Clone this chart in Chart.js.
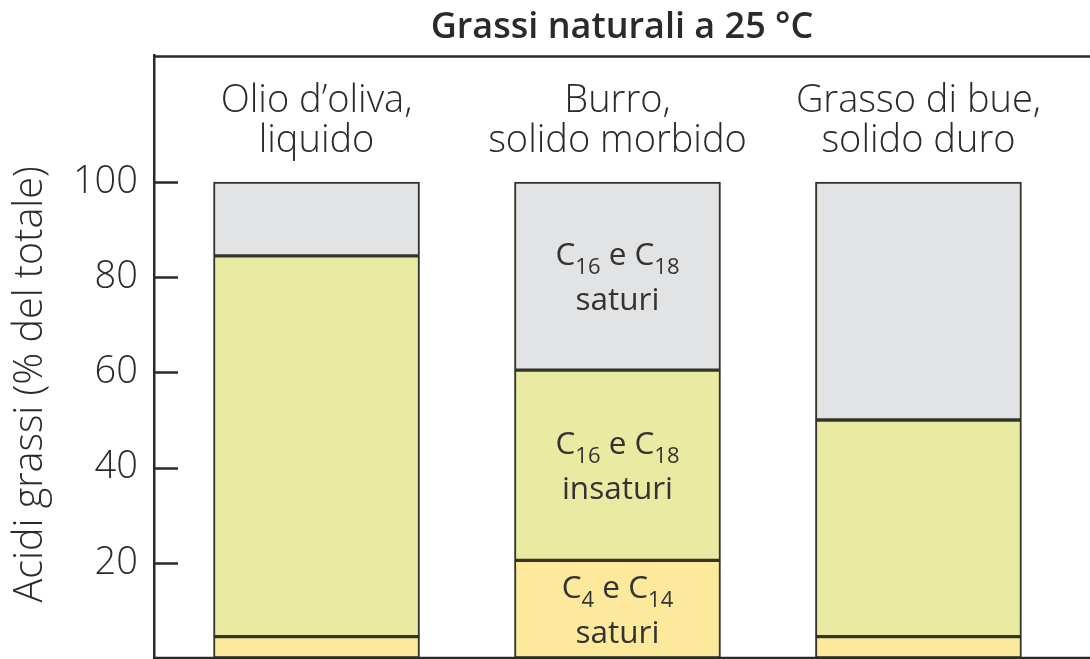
<!DOCTYPE html>
<html>
<head>
<meta charset="utf-8">
<script src="https://cdn.jsdelivr.net/npm/chart.js@4.4.0/dist/chart.umd.min.js"></script>
<style>
  html, body { margin: 0; padding: 0; background: #fff; }
  #chart { display: block; }
</style>
</head>
<body>
<canvas id="chart" width="1090" height="659"></canvas>
<script>
// Kategorien (zweizeilig) und Anteile der Fettsäuren in % vom Gesamt
const categories = [['Olio d\u2019oliva,', 'liquido'], ['Burro,', 'solido morbido'], ['Grasso di bue,', 'solido duro']];
const saturiC4C14 = [4.5, 20.5, 4.5];
const insaturiC16C18 = [80, 40, 45.5];
const saturiC16C18 = [15.5, 39.5, 50];
const yTicks = [20, 40, 60, 80, 100];

// Beschriftungen der Segmente (nur in der Butter-Säule)
const seriesNames = ['C4 e C14 saturi', 'C16 e C18 insaturi', 'C16 e C18 saturi'];
const seriesLine1 = [['C', '4', ' e C', '14'], ['C', '16', ' e C', '18'], ['C', '16', ' e C', '18']];
const seriesLine2 = ['saturi', 'insaturi', 'saturi'];
const labelledBar = 1;

const chartTitle = 'Grassi naturali a 25 \u00B0C';
const yTitle = 'Acidi grassi (% del totale)';

const FONT = 'Open Sans';
const INK = '#2a2a2a';
const EDGE = '#34342a';

const toPoints = arr => arr.map((v, i) => ({ x: i, y: v }));

/**
 * Zeichnet Rahmen, Tick-Striche nach innen, Kategorien, Segmenttexte und Achsentitel
 */
const decorPlugin = {
    id: 'decor',
    afterDatasetsDraw(chart) {
        const { ctx, chartArea: a, scales: { x, y } } = chart;
        ctx.save();

        // Rahmen oben/unten und Tick-Striche
        ctx.strokeStyle = INK;
        ctx.lineWidth = 2.5;
        ctx.beginPath();
        ctx.moveTo(a.left, a.top + 1.5);
        ctx.lineTo(a.right, a.top + 1.5);
        ctx.moveTo(a.left, a.bottom);
        ctx.lineTo(a.right, a.bottom);
        yTicks.forEach(v => {
            const py = Math.round(y.getPixelForValue(v)) + 0.5;
            ctx.moveTo(a.left, py);
            ctx.lineTo(a.left + 24, py);
        });
        ctx.stroke();

        // Kategorien oben im Rahmen
        ctx.fillStyle = INK;
        ctx.textAlign = 'center';
        ctx.textBaseline = 'alphabetic';
        ctx.font = `300 38px "${FONT}"`;
        categories.forEach((lines, i) => {
            const cx = x.getPixelForValue(i);
            lines.forEach((t, k) => ctx.fillText(t, cx, a.top + 57 + k * 40));
        });

        // Segmenttexte mit tiefgestellten Zahlen
        const size = 31.5;
        const subSize = 22;
        chart.data.datasets.forEach((ds, i) => {
            const bar = chart.getDatasetMeta(i).data[labelledBar];
            const { x: bx, y: top, base } = bar.getProps(['x', 'y', 'base'], true);
            const cy = (top + base) / 2;
            const parts = seriesLine1[i];
            const widths = parts.map((p, k) => {
                ctx.font = `400 ${k % 2 ? subSize : size}px "${FONT}"`;
                return ctx.measureText(p).width;
            });
            const total = widths.reduce((s, w) => s + w, 0);
            let px = bx - total / 2;
            ctx.textAlign = 'left';
            ctx.textBaseline = 'alphabetic';
            ctx.fillStyle = '#333';
            parts.forEach((p, k) => {
                ctx.font = `400 ${k % 2 ? subSize : size}px "${FONT}"`;
                ctx.fillText(p, px, cy - 11.5 + (k % 2 ? 9 : 0));
                px += widths[k];
            });
            ctx.textAlign = 'center';
            ctx.font = `400 ${size}px "${FONT}"`;
            ctx.fillText(seriesLine2[i], bx, cy + 33.5);
        });

        // Y-Achsentitel
        ctx.translate(31, y.getPixelForValue(57.5));
        ctx.rotate(-Math.PI / 2);
        ctx.textAlign = 'center';
        ctx.textBaseline = 'middle';
        ctx.fillStyle = INK;
        ctx.font = `300 39.5px "${FONT}"`;
        ctx.fillText(yTitle, 0, 0);

        ctx.restore();
    }
};

const dataset = (label, values, color) => ({
    label,
    data: toPoints(values),
    backgroundColor: color,
    borderColor: EDGE,
    borderWidth: 2,
    borderSkipped: false,
    barThickness: 206,
});

new Chart(document.getElementById('chart'), {
    type: 'bar',
    data: {
        datasets: [
            dataset(seriesNames[0], saturiC4C14, '#fce99b'),
            dataset(seriesNames[1], insaturiC16C18, '#eaeba3'),
            dataset(seriesNames[2], saturiC16C18, '#e2e3e4'),
        ]
    },
    options: {
        responsive: false,
        animation: false,
        layout: { padding: { left: 0, right: 0, top: 0, bottom: 1 } },
        plugins: {
            legend: { display: false },
            tooltip: { enabled: false },
            title: {
                display: true,
                fullSize: false,
                text: chartTitle,
                color: INK,
                font: { family: FONT, size: 36, weight: 600 },
                padding: { top: 6, bottom: 5.8 }
            }
        },
        scales: {
            x: {
                type: 'linear',
                stacked: true,
                offset: false,
                min: -0.54,
                max: 2.57,
                display: false
            },
            y: {
                stacked: true,
                min: 0,
                max: 126.7,
                afterBuildTicks: s => { s.ticks = yTicks.map(v => ({ value: v })); },
                afterFit: s => { s.width = 154; s.paddingTop = 0; s.paddingBottom = 0; },
                grid: { display: false, drawTicks: false },
                border: { display: true, color: INK, width: 2.5 },
                ticks: {
                    padding: 16,
                    color: INK,
                    font: { family: FONT, size: 38, weight: 300 }
                }
            }
        }
    },
    plugins: [decorPlugin]
});
</script>
</body>
</html>
